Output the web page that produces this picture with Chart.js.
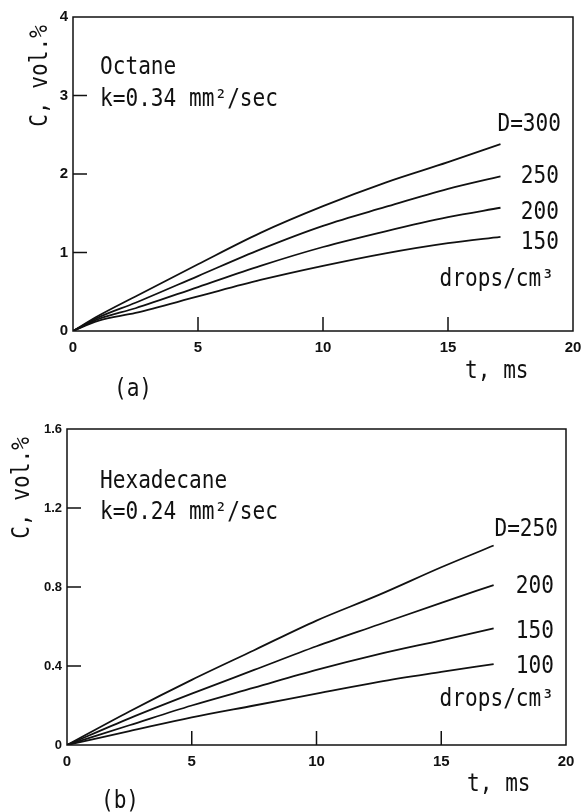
<!DOCTYPE html>
<html>
<head>
<meta charset="utf-8">
<script src="https://cdn.jsdelivr.net/npm/chart.js@4/dist/chart.umd.min.js"></script>
<style>
  html, body { margin: 0; padding: 0; background: #fff; }
  canvas { display: block; }
</style>
</head>
<body>
<canvas id="chartA" width="583" height="406"></canvas>
<canvas id="chartB" width="583" height="406"></canvas>
<script>
// (a) octane, t in ms, C in vol.%
const timeA = [0, 1, 2.5, 5, 7.5, 10, 12.5, 15, 17.1];
const octaneD300 = [0, 0.19, 0.44, 0.85, 1.25, 1.59, 1.89, 2.15, 2.38];
const octaneD250 = [0, 0.17, 0.36, 0.70, 1.04, 1.34, 1.58, 1.81, 1.97];
const octaneD200 = [0, 0.15, 0.29, 0.56, 0.83, 1.07, 1.27, 1.45, 1.57];
const octaneD150 = [0, 0.13, 0.23, 0.44, 0.65, 0.83, 0.99, 1.12, 1.20];
const octaneLabels = ['D=300', '250', '200', '150'];

// (b) hexadecane
const timeB = [0, 2.5, 5, 7.5, 10, 12.5, 15, 17.1];
const hexD250 = [0, 0.17, 0.33, 0.48, 0.63, 0.76, 0.90, 1.01];
const hexD200 = [0, 0.135, 0.26, 0.38, 0.50, 0.61, 0.72, 0.81];
const hexD150 = [0, 0.10, 0.20, 0.29, 0.38, 0.46, 0.53, 0.59];
const hexD100 = [0, 0.07, 0.14, 0.20, 0.26, 0.32, 0.37, 0.41];
const hexLabels = ['D=250', '200', '150', '100'];

const xTicks = [0, 5, 10, 15, 20];
const yTicksA = [0, 1, 2, 3, 4];
const yTicksB = [0, 0.4, 0.8, 1.2, 1.6];

const INK = '#111';

function toPoints(xs, ys) {
  return xs.map((x, i) => ({ x: x, y: ys[i] }));
}

function monoText(ctx, str, x, y, align, rotate) {
  ctx.save();
  ctx.translate(x, y);
  if (rotate) ctx.rotate(rotate);
  ctx.scale(0.88, 1);
  ctx.font = '24px "DejaVu Sans Mono"';
  ctx.textAlign = align || 'left';
  ctx.textBaseline = 'middle';
  ctx.fillStyle = INK;
  ctx.fillText(str, 0, 0);
  ctx.restore();
}

// box around the plot, inward tick marks and the hand-lettered notes
const framePlugin = {
  id: 'frame',
  afterDraw(chart, args, opts) {
    const ctx = chart.ctx;
    const a = chart.chartArea;
    const xs = chart.scales.x, ys = chart.scales.y;
    ctx.save();
    ctx.strokeStyle = INK;
    ctx.lineWidth = 1.5;
    ctx.strokeRect(a.left, a.top, a.right - a.left, a.bottom - a.top);
    ctx.beginPath();
    opts.xMarks.forEach(v => {
      const px = xs.getPixelForValue(v);
      ctx.moveTo(px, a.bottom);
      ctx.lineTo(px, a.bottom - 14);
    });
    opts.yMarks.forEach(v => {
      const py = ys.getPixelForValue(v);
      ctx.moveTo(a.left, py);
      ctx.lineTo(a.left + 14, py);
    });
    ctx.stroke();
    ctx.restore();

    opts.notes.forEach(n => monoText(ctx, n.text, n.x, n.y, n.align, n.rotate));
  }
};

function makeChart(id, xs, series, yMax, yStep, yTicks, yFont, pad, yWidth, xHeight, notes) {
  return new Chart(id, {
    type: 'line',
    data: {
      datasets: series.map(s => ({
        data: toPoints(xs, s),
        borderColor: INK,
        borderWidth: 1.8,
        pointRadius: 0,
        cubicInterpolationMode: 'monotone',
        fill: false
      }))
    },
    options: {
      responsive: false,
      animation: false,
      layout: { padding: pad },
      plugins: {
        legend: { display: false },
        tooltip: { enabled: false },
        frame: {
          xMarks: [5, 10, 15],
          yMarks: yTicks.slice(1, -1),
          notes: notes
        }
      },
      scales: {
        x: {
          type: 'linear',
          min: 0,
          max: 20,
          afterFit: s => {
            s.height = xHeight;
            s.paddingLeft = 0;
            s.paddingRight = 0;
          },
          afterBuildTicks: s => { s.ticks = xTicks.map(v => ({ value: v })); },
          grid: { display: false, drawTicks: false },
          border: { display: false },
          ticks: {
            color: INK,
            padding: 8,
            font: { family: 'Liberation Sans', size: 15, weight: 'bold' }
          }
        },
        y: {
          min: 0,
          max: yMax,
          afterFit: s => { s.width = yWidth; },
          afterBuildTicks: s => { s.ticks = yTicks.map(v => ({ value: v })); },
          grid: { display: false, drawTicks: false },
          border: { display: false },
          ticks: {
            color: INK,
            padding: 5,
            font: { family: 'Liberation Sans', size: yFont, weight: 'bold' },
            callback: v => v === 0 ? '0' : (yStep < 1 ? v.toFixed(1) : String(v))
          }
        }
      }
    },
    plugins: [framePlugin]
  });
}

const notesA = [
  { text: 'C, vol.%', x: 41, y: 76, align: 'center', rotate: -Math.PI / 2 },
  { text: 'Octane', x: 100, y: 68 },
  { text: 'k=0.34 mm²/sec', x: 100, y: 100 },
  { text: octaneLabels[0], x: 561, y: 125, align: 'right' },
  { text: octaneLabels[1], x: 559, y: 177, align: 'right' },
  { text: octaneLabels[2], x: 559, y: 213, align: 'right' },
  { text: octaneLabels[3], x: 559, y: 243, align: 'right' },
  { text: 'drops/cm³', x: 554, y: 280, align: 'right' },
  { text: 't, ms', x: 465, y: 372 },
  { text: '(a)', x: 133, y: 390, align: 'center' }
];

const notesB = [
  { text: 'C, vol.%', x: 23, y: 82, align: 'center', rotate: -Math.PI / 2 },
  { text: 'Hexadecane', x: 100, y: 76 },
  { text: 'k=0.24 mm²/sec', x: 100, y: 107 },
  { text: hexLabels[0], x: 558, y: 124, align: 'right' },
  { text: hexLabels[1], x: 554, y: 181, align: 'right' },
  { text: hexLabels[2], x: 554, y: 226, align: 'right' },
  { text: hexLabels[3], x: 554, y: 261, align: 'right' },
  { text: 'drops/cm³', x: 554, y: 294, align: 'right' },
  { text: 't, ms', x: 467, y: 379 },
  { text: '(b)', x: 120, y: 396, align: 'center' }
];

makeChart('chartA', timeA, [octaneD300, octaneD250, octaneD200, octaneD150],
  4, 1, yTicksA, 15, { left: 10, right: 10, top: 17, bottom: 0 }, 63, 75, notesA);

makeChart('chartB', timeB, [hexD250, hexD200, hexD150, hexD100],
  1.6, 0.4, yTicksB, 13, { left: 8, right: 17, top: 23, bottom: 0 }, 59, 67, notesB);
</script>
</body>
</html>
